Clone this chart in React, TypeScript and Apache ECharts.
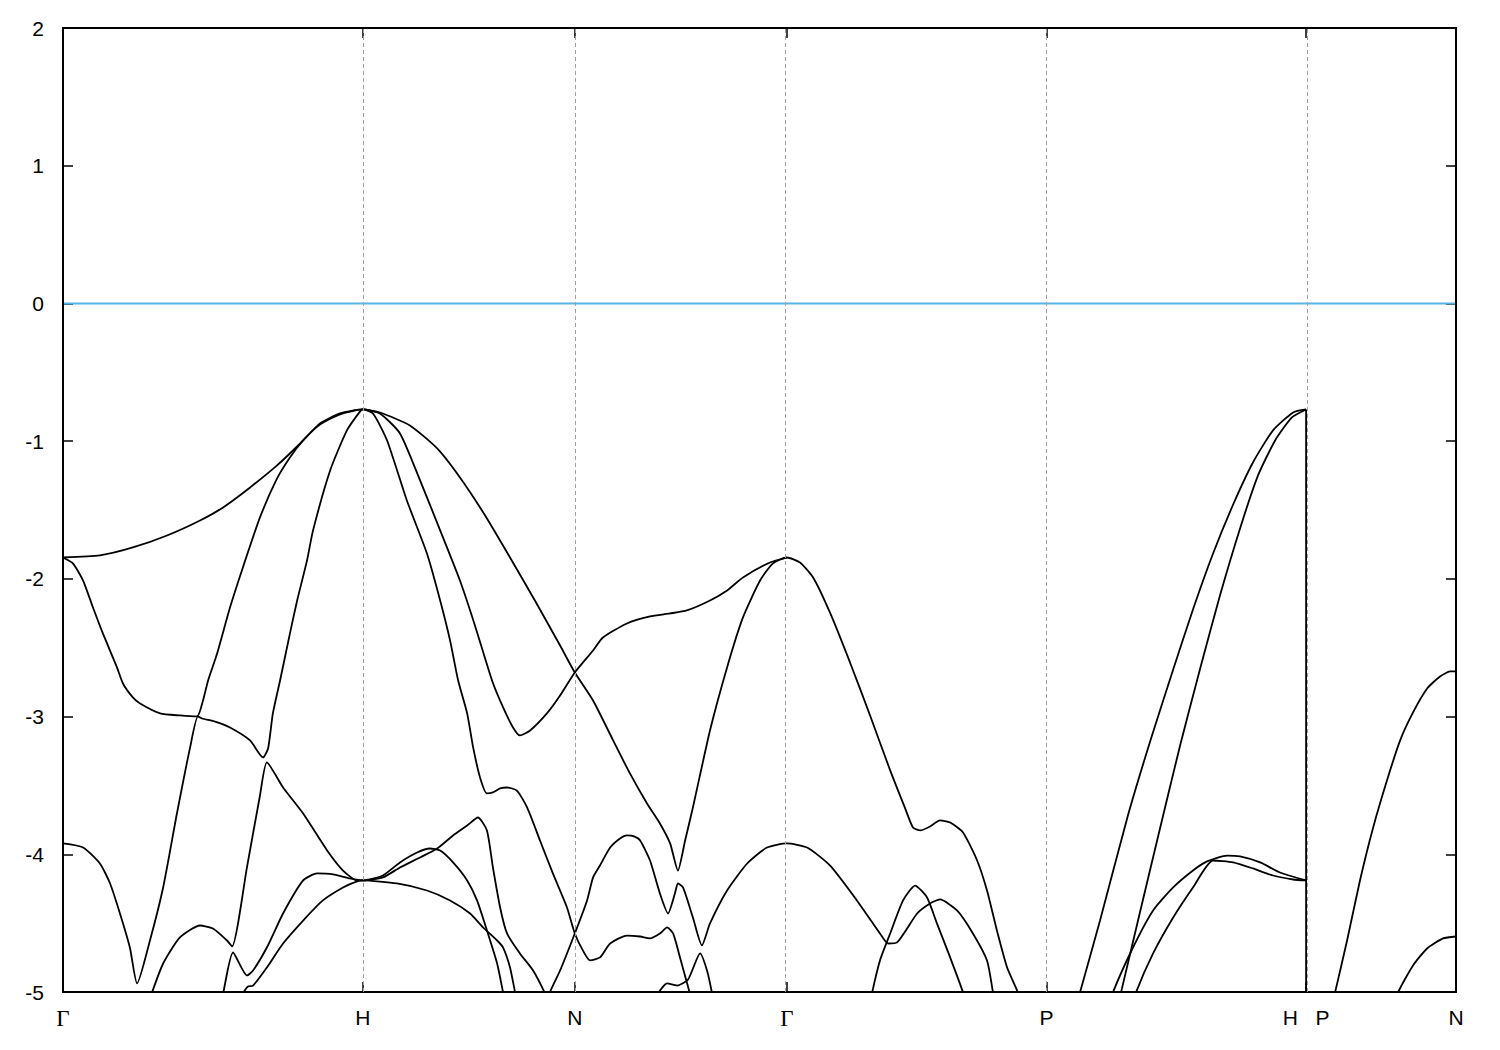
import React, { useEffect, useRef } from "react";
import * as echarts from "echarts";

// k-path positions of the high-symmetry points (units of 2π/a)
const kTicks = [0, 1.0, 1.7071, 2.4142, 3.2802, 4.1463, 4.6463];
const kLabels = ["Γ", "H", "N", "Γ", "P", "H   P", "N"];
const gridKs = [1.0, 1.7071, 2.4142, 3.2802, 4.1463];
const kMax = 4.6463;
const eMin = -5;
const eMax = 2;
const eStep = 1;

const fermi: number[][] = [[0, 0], [4.6463, 0]];

const bandA: number[][] = [
  [0, -1.845], [0.123, -1.83], [0.233, -1.772], [0.347, -1.685], [0.457, -1.576], [0.534, -1.481],
  [0.624, -1.336], [0.714, -1.176], [0.791, -1.017], [0.857, -0.871], [0.924, -0.799], [1.0, -0.77],
  [1.057, -0.792], [1.157, -0.886], [1.248, -1.053], [1.324, -1.264], [1.408, -1.54], [1.491, -1.845],
  [1.574, -2.157], [1.658, -2.484], [1.7071, -2.68], [1.768, -2.883], [1.835, -3.173], [1.891, -3.413],
  [1.948, -3.631], [1.991, -3.776], [2.025, -3.921], [2.051, -4.118], [2.075, -3.9], [2.101, -3.66],
  [2.158, -3.101], [2.215, -2.643], [2.268, -2.28], [2.325, -2.012], [2.368, -1.888], [2.4142, -1.845],
  [2.458, -1.881], [2.502, -1.99], [2.558, -2.244], [2.625, -2.607], [2.692, -2.992], [2.759, -3.391],
  [2.809, -3.667], [2.835, -3.805], [2.859, -3.827], [2.892, -3.798], [2.925, -3.754], [2.959, -3.769],
  [3.002, -3.842], [3.049, -4.045], [3.082, -4.263], [3.115, -4.553], [3.149, -4.822], [3.185, -5.003],
  [3.225, -5.28],
];

const bandB: number[][] = [
  [0, -1.845], [0.033, -1.888], [0.067, -2.012], [0.1, -2.208], [0.133, -2.396], [0.18, -2.643],
  [0.2, -2.76], [0.233, -2.861], [0.257, -2.905], [0.324, -2.977], [0.39, -2.992], [0.447, -2.999],
  [0.467, -2.883], [0.484, -2.738], [0.514, -2.542], [0.557, -2.208], [0.6, -1.917], [0.657, -1.554],
  [0.714, -1.271], [0.757, -1.118], [0.801, -0.995], [0.857, -0.88], [0.924, -0.805], [1.0, -0.77],
  [1.057, -0.799], [1.124, -0.944], [1.191, -1.285], [1.258, -1.648], [1.324, -2.012], [1.374, -2.338],
  [1.431, -2.738], [1.468, -2.934], [1.501, -3.079], [1.524, -3.137], [1.558, -3.101], [1.614, -2.977],
  [1.658, -2.847], [1.7071, -2.68], [1.768, -2.52], [1.801, -2.426], [1.881, -2.324], [1.958, -2.273],
  [2.025, -2.251], [2.081, -2.229], [2.158, -2.157], [2.215, -2.084], [2.268, -1.99], [2.358, -1.881],
  [2.4142, -1.845],
];

const bandC: number[][] = [
  [0, -3.921], [0.067, -3.951], [0.123, -4.067], [0.157, -4.212], [0.19, -4.43], [0.223, -4.677],
  [0.247, -4.938], [0.29, -4.626], [0.334, -4.241], [0.38, -3.704], [0.424, -3.224], [0.45, -2.999],
  [0.464, -3.014], [0.507, -3.036], [0.557, -3.079], [0.624, -3.173], [0.667, -3.297], [0.684, -3.232],
  [0.7, -2.977], [0.724, -2.738], [0.757, -2.396], [0.781, -2.157], [0.814, -1.866], [0.834, -1.648],
  [0.891, -1.213], [0.947, -0.922], [0.991, -0.784], [1.0, -0.77],
  [1.034, -0.799], [1.081, -0.995], [1.147, -1.431], [1.214, -1.816], [1.258, -2.157], [1.291, -2.447],
  [1.318, -2.738], [1.348, -2.977], [1.368, -3.224], [1.391, -3.442], [1.414, -3.558], [1.434, -3.551],
  [1.458, -3.522], [1.481, -3.515], [1.514, -3.537], [1.548, -3.66], [1.591, -3.9], [1.634, -4.139],
  [1.681, -4.386], [1.7071, -4.575], [1.734, -4.698], [1.758, -4.771], [1.791, -4.749], [1.825, -4.648],
  [1.881, -4.59], [1.925, -4.597], [1.958, -4.611], [1.991, -4.575], [2.015, -4.531], [2.035, -4.575],
  [2.058, -4.749], [2.091, -5.011], [2.108, -5.13],
];

const bandD: number[][] = [
  [0.284, -5.1], [0.297, -5.003], [0.334, -4.793], [0.39, -4.604], [0.457, -4.517], [0.5, -4.539],
  [0.547, -4.626], [0.564, -4.669], [0.614, -4.089], [0.657, -3.573], [0.68, -3.333], [0.734, -3.515],
  [0.801, -3.704], [0.881, -3.972], [0.934, -4.118], [0.981, -4.19], [1.0, -4.19],
  [1.067, -4.168], [1.124, -4.096], [1.191, -4.023], [1.248, -3.958], [1.301, -3.863], [1.348, -3.791],
  [1.384, -3.733], [1.414, -3.827], [1.434, -4.096], [1.458, -4.386], [1.481, -4.575], [1.524, -4.72],
  [1.568, -4.844], [1.608, -5.011], [1.624, -5.1],
];

const bandE: number[][] = [
  [0.524, -5.1], [0.534, -5.011], [0.567, -4.713], [0.614, -4.88], [0.634, -4.844], [0.68, -4.677],
  [0.734, -4.43], [0.801, -4.19], [0.847, -4.139], [0.901, -4.146], [0.957, -4.175], [1.0, -4.19],
  [1.067, -4.154], [1.124, -4.059], [1.181, -3.987], [1.224, -3.958], [1.258, -3.973], [1.301, -4.059],
  [1.348, -4.19], [1.381, -4.335], [1.414, -4.553], [1.448, -4.793], [1.468, -5.003], [1.478, -5.1],
];

const bandF: number[][] = [
  [0.59, -5.1], [0.6, -5.011], [0.617, -4.96], [0.634, -4.953], [0.68, -4.822], [0.734, -4.648],
  [0.801, -4.481], [0.867, -4.335], [0.934, -4.241], [0.981, -4.197], [1.0, -4.19],
  [1.114, -4.212], [1.214, -4.263], [1.291, -4.335], [1.358, -4.43], [1.401, -4.531], [1.448, -4.626],
  [1.468, -4.677], [1.491, -4.822], [1.508, -5.003], [1.518, -5.1],
];

const bandG: number[][] = [
  [1.618, -5.1], [1.624, -5.003], [1.658, -4.844], [1.7071, -4.575], [1.748, -4.335], [1.768, -4.168],
  [1.791, -4.081], [1.825, -3.951], [1.858, -3.885], [1.881, -3.863], [1.905, -3.87], [1.925, -3.9],
  [1.958, -4.045], [1.991, -4.285], [2.018, -4.43], [2.041, -4.285], [2.051, -4.212], [2.068, -4.241],
  [2.101, -4.459], [2.131, -4.662], [2.158, -4.502], [2.215, -4.263], [2.282, -4.067], [2.348, -3.951],
  [2.4142, -3.921], [2.482, -3.951], [2.558, -4.081], [2.648, -4.335], [2.725, -4.575], [2.752, -4.648],
  [2.782, -4.64], [2.849, -4.43], [2.892, -4.357], [2.925, -4.328], [2.982, -4.408], [3.035, -4.575],
  [3.082, -4.771], [3.102, -5.003], [3.109, -5.1],
];

const ngSmall: number[][] = [
  [1.975, -5.1], [1.985, -5.011], [2.015, -4.938], [2.048, -4.953], [2.085, -4.909], [2.125, -4.72],
  [2.148, -4.844], [2.165, -5.011], [2.171, -5.1],
];

const gpRise: number[][] = [
  [2.692, -5.1], [2.699, -5.003], [2.725, -4.771], [2.759, -4.575], [2.802, -4.335], [2.842, -4.227],
  [2.882, -4.314], [2.915, -4.502], [2.959, -4.749], [3.002, -5.003], [3.012, -5.1],
];

const phSteep1: number[][] = [
  [3.379, -5.1], [3.392, -5.003], [3.459, -4.481], [3.552, -3.718], [3.626, -3.181], [3.703, -2.658],
  [3.769, -2.222], [3.836, -1.816], [3.903, -1.46], [3.969, -1.155], [4.036, -0.922], [4.103, -0.792],
  [4.1463, -0.77],
];

const phSteep2: number[][] = [
  [3.519, -5.1], [3.529, -5.003], [3.592, -4.423], [3.659, -3.813], [3.726, -3.21], [3.793, -2.651],
  [3.859, -2.121], [3.926, -1.634], [3.986, -1.249], [4.043, -0.995], [4.099, -0.828], [4.1463, -0.77],
];

const phDome1: number[][] = [
  [3.492, -5.1], [3.502, -5.003], [3.569, -4.677], [3.636, -4.408], [3.703, -4.241], [3.769, -4.118],
  [3.816, -4.052], [3.883, -4.009], [3.926, -4.016], [3.993, -4.059], [4.059, -4.132], [4.1463, -4.19],
];

const phDome2: number[][] = [
  [3.569, -5.1], [3.579, -5.003], [3.636, -4.72], [3.703, -4.459], [3.769, -4.241], [3.836, -4.045],
  [3.903, -4.059], [3.969, -4.103], [4.036, -4.154], [4.103, -4.183], [4.1463, -4.19],
];

const hpJump: number[][] = [[4.1463, -0.77], [4.1463, -5.1]];

const pnUpper: number[][] = [
  [4.233, -5.1], [4.243, -5.003], [4.283, -4.626], [4.326, -4.19], [4.37, -3.805], [4.416, -3.464],
  [4.46, -3.173], [4.503, -2.97], [4.55, -2.796], [4.593, -2.709], [4.627, -2.672], [4.6463, -2.672],
];

const pnLower: number[][] = [
  [4.443, -5.1], [4.453, -5.003], [4.503, -4.807], [4.55, -4.684], [4.603, -4.611], [4.6463, -4.597],
];

const bands = [
  bandA, bandB, bandC, bandD, bandE, bandF, bandG, ngSmall, gpRise,
  phSteep1, phSteep2, phDome1, phDome2, pnUpper, pnLower,
];

const labelFor = (v: number) => {
  const i = kTicks.findIndex((t) => Math.abs(t - v) < 1e-3);
  if (i < 0) return "";
  const s = kLabels[i];
  return s === "Γ" ? "{g|Γ}" : s;
};

export default function App() {
  const ref = useRef<HTMLDivElement>(null);
  useEffect(() => {
    const chart = echarts.init(ref.current!, null, { renderer: "svg" });
    const font = "Liberation Sans, Arial, sans-serif";
    const lineStyle = { color: "#000", width: 1.8 };
    const bandSeries: any[] = bands.map((d, i) => ({
      type: "line",
      name: "band" + i,
      data: d,
      showSymbol: false,
      symbol: "none",
      clip: true,
      silent: true,
      smooth: 0.2,
      z: 3,
      lineStyle,
    }));
    bandSeries.push({
      type: "line",
      name: "HP",
      data: hpJump,
      showSymbol: false,
      symbol: "none",
      clip: true,
      silent: true,
      z: 3,
      lineStyle,
    });
    const tickStyle = { color: "#000", width: 1.5 };
    chart.setOption({
      animation: false,
      backgroundColor: "#ffffff",
      grid: {
        left: 63, right: 44, top: 28, bottom: 58,
        show: true, borderColor: "#000", borderWidth: 2, backgroundColor: "transparent", z: 5,
      },
      xAxis: [
        {
          type: "value", min: 0, max: kMax, position: "bottom",
          axisLine: { show: false, onZero: false },
          axisTick: { show: true, inside: true, length: 10, customValues: kTicks, lineStyle: tickStyle },
          axisLabel: {
            show: true, customValues: kTicks, formatter: labelFor, margin: 15,
            color: "#000", fontSize: 21, fontFamily: font,
            rich: { g: { fontFamily: "Liberation Serif, Times New Roman, serif", fontSize: 23, color: "#000" } },
          },
          splitLine: { show: false },
        },
        {
          type: "value", min: 0, max: kMax, position: "top",
          axisLine: { show: false, onZero: false },
          axisTick: { show: true, inside: true, length: 10, customValues: kTicks, lineStyle: tickStyle },
          axisLabel: { show: false },
          splitLine: { show: false },
        },
      ],
      yAxis: [
        {
          type: "value", min: eMin, max: eMax, interval: eStep, position: "left",
          axisLine: { show: false, onZero: false },
          axisTick: { show: true, inside: true, length: 10, lineStyle: tickStyle },
          axisLabel: { color: "#000", fontSize: 21, fontFamily: font, margin: 19 },
          splitLine: { show: false },
        },
        {
          type: "value", min: eMin, max: eMax, interval: eStep, position: "right",
          axisLine: { show: false, onZero: false },
          axisTick: { show: true, inside: true, length: 10, lineStyle: tickStyle },
          axisLabel: { show: false },
          splitLine: { show: false },
        },
      ],
      series: [
        {
          type: "line",
          name: "EF",
          data: fermi,
          showSymbol: false,
          symbol: "none",
          silent: true,
          z: 2,
          lineStyle: { color: "#56b4e9", width: 2 },
          markLine: {
            silent: true,
            symbol: ["none", "none"],
            label: { show: false },
            lineStyle: { color: "#a0a0a0", type: [4, 3], width: 1 },
            data: gridKs.map((k) => ({ xAxis: k })),
          },
        },
        ...bandSeries,
      ],
    });
    return () => chart.dispose();
  }, []);
  return (
    <div
      ref={ref}
      style={{ position: "fixed", left: 0, top: 0, width: 1500, height: 1050, background: "#fff" }}
    />
  );
}
